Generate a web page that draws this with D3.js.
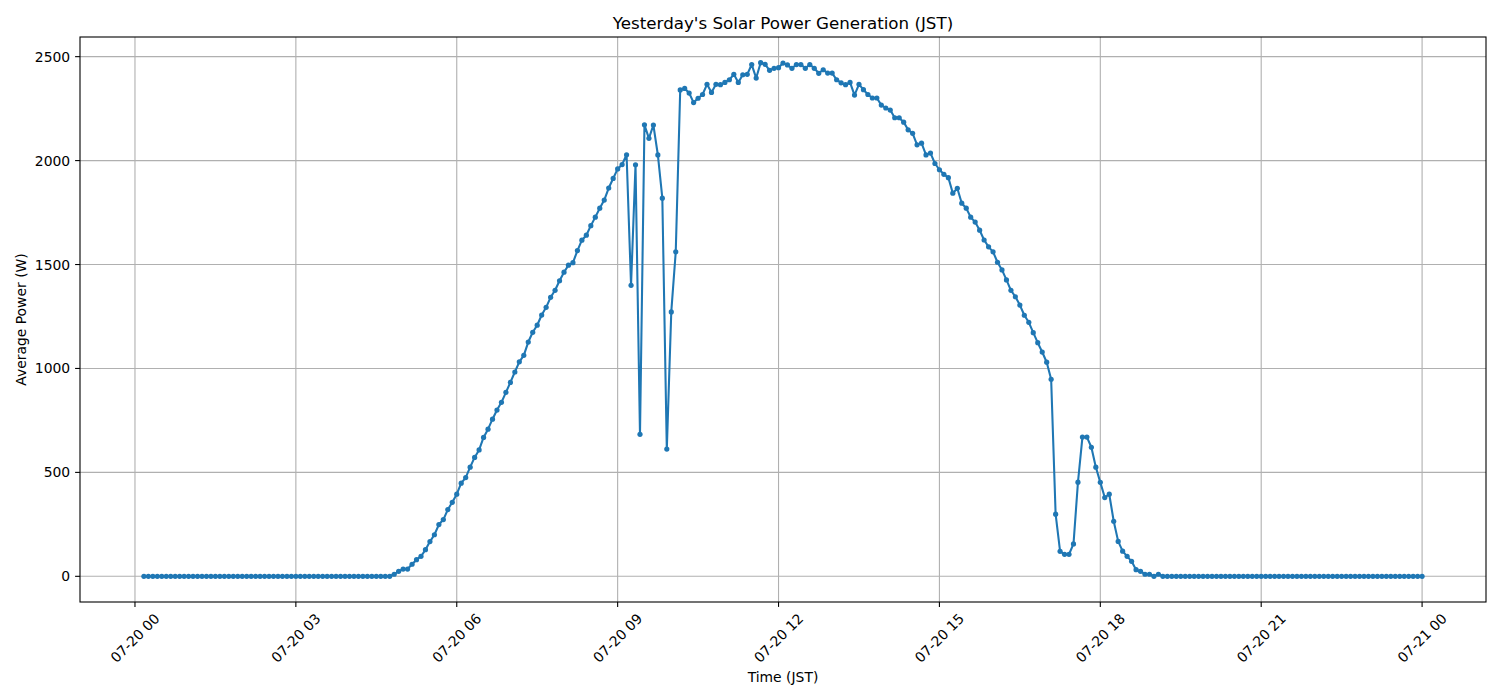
<!DOCTYPE html>
<html>
<head>
<meta charset="utf-8">
<script src="https://cdn.jsdelivr.net/npm/d3@7"></script>
<style>
  html, body { margin: 0; padding: 0; background: #fff; }
  svg { display: block; font-family: "DejaVu Sans", sans-serif; }
</style>
</head>
<body>
<svg id="chart" width="1500" height="700"></svg>
<script>
// ---- data ----
const startTime = "2023-07-20T00:10:00Z";   // first sample (JST shown as-is)
const stepMinutes = 5;                      // sampling interval
// average power (W) per 5-minute sample, one line per hour
const powerValues = [
  0,0,0,0,0,0,0,0,0,0,                                        // 00:10-00:55
  0,0,0,0,0,0,0,0,0,0,0,0,                                    // 01
  0,0,0,0,0,0,0,0,0,0,0,0,                                    // 02
  0,0,0,0,0,0,0,0,0,0,0,0,                                    // 03
  0,0,0,0,0,0,0,0,0,0,10,24,                                  // 04
  35,35,58,80,96,128,167,200,249,273,321,356,                 // 05
  395,448,475,525,572,608,668,708,756,800,837,885,            // 06
  933,983,1032,1063,1127,1174,1208,1257,1294,1342,1376,1422,  // 07
  1463,1497,1509,1567,1617,1641,1687,1728,1771,1810,1868,1914,// 08
  1960,1981,2028,1400,1980,683,2172,2107,2171,2027,1819,612,  // 09
  1272,1561,2340,2347,2325,2279,2300,2318,2367,2328,2367,2365,// 10
  2376,2389,2415,2376,2413,2415,2462,2397,2471,2463,2434,2444,// 11
  2447,2469,2460,2444,2462,2462,2444,2462,2444,2420,2437,2421,// 12
  2421,2389,2374,2365,2376,2315,2367,2341,2318,2301,2301,2267,// 13
  2253,2243,2206,2206,2185,2148,2131,2076,2084,2027,2036,1986,// 14
  1956,1934,1918,1843,1867,1795,1771,1728,1704,1665,1618,1585,// 15
  1561,1511,1474,1426,1376,1345,1305,1256,1222,1172,1124,1079,// 16
  1030,948,299,120,106,106,156,453,670,670,621,525,           // 17
  452,379,395,265,168,121,96,72,32,24,10,10,                  // 18
  0,10,0,0,0,0,0,0,0,0,0,0,                                   // 19
  0,0,0,0,0,0,0,0,0,0,0,0,                                    // 20
  0,0,0,0,0,0,0,0,0,0,0,0,                                    // 21
  0,0,0,0,0,0,0,0,0,0,0,0,                                    // 22
  0,0,0,0,0,0,0,0,0,0,0,0,                                    // 23
  0                                                           // 24:00
];
const yTickValues = [0, 500, 1000, 1500, 2000, 2500];
const xTickStepHours = 3;
const titleText = "Yesterday's Solar Power Generation (JST)";
const xLabelText = "Time (JST)";
const yLabelText = "Average Power (W)";

// ---- build table ----
const t0 = new Date(startTime);
const data = powerValues.map((v, i) => ({
  t: new Date(t0.getTime() + i * stepMinutes * 60000),
  v: v
}));

// ---- layout ----
const svg = d3.select("#chart");
const M = { left: 80, top: 37, right: 1486, bottom: 602 };
const blue = "#1f77b4";

const tExt = d3.extent(data, d => d.t);
const tPad = (tExt[1] - tExt[0]) * 0.05;
const x = d3.scaleUtc()
  .domain([new Date(+tExt[0] - tPad), new Date(+tExt[1] + tPad)])
  .range([M.left, M.right]);

const vExt = d3.extent(data, d => d.v);
const vPad = (vExt[1] - vExt[0]) * 0.05;
const y = d3.scaleLinear()
  .domain([vExt[0] - vPad, vExt[1] + vPad])
  .range([M.bottom, M.top]);

const xTicks = x.ticks(d3.utcHour.every(xTickStepHours));
const fmt = d3.utcFormat("%m-%d %H");

// grid
const grid = svg.append("g");
grid.selectAll("line.gx").data(xTicks).join("line")
  .attr("x1", d => x(d)).attr("x2", d => x(d))
  .attr("y1", M.top).attr("y2", M.bottom)
  .attr("stroke", "#b0b0b0").attr("stroke-width", 1.1);
grid.selectAll("line.gy").data(yTickValues).join("line")
  .attr("x1", M.left).attr("x2", M.right)
  .attr("y1", d => y(d)).attr("y2", d => y(d))
  .attr("stroke", "#b0b0b0").attr("stroke-width", 1.1);

// line + markers
const clip = svg.append("clipPath").attr("id", "clip").append("rect")
  .attr("x", M.left).attr("y", M.top)
  .attr("width", M.right - M.left).attr("height", M.bottom - M.top);
const plot = svg.append("g").attr("clip-path", "url(#clip)");
plot.append("path").datum(data)
  .attr("fill", "none").attr("stroke", blue).attr("stroke-width", 2.08)
  .attr("stroke-linejoin", "round").attr("stroke-linecap", "round")
  .attr("d", d3.line().x(d => x(d.t)).y(d => y(d.v)));
plot.selectAll("circle").data(data).join("circle")
  .attr("cx", d => x(d.t)).attr("cy", d => y(d.v))
  .attr("r", 2.6).attr("fill", blue);

// spines
svg.append("rect")
  .attr("x", M.left).attr("y", M.top)
  .attr("width", M.right - M.left).attr("height", M.bottom - M.top)
  .attr("fill", "none").attr("stroke", "#000").attr("stroke-width", 1.1);

// x axis ticks
const xAxis = svg.append("g");
xAxis.selectAll("line").data(xTicks).join("line")
  .attr("x1", d => x(d)).attr("x2", d => x(d))
  .attr("y1", M.bottom).attr("y2", M.bottom + 4.9)
  .attr("stroke", "#000").attr("stroke-width", 1.1);
xAxis.selectAll("text").data(xTicks).join("text")
  .attr("transform", d => `translate(${x(d)},${M.bottom + 36}) rotate(-45)`)
  .attr("text-anchor", "middle").attr("dominant-baseline", "central")
  .attr("font-size", 13.9).attr("fill", "#000")
  .text(d => fmt(d));

// y axis ticks
const yAxis = svg.append("g");
yAxis.selectAll("line").data(yTickValues).join("line")
  .attr("x1", M.left - 4.9).attr("x2", M.left)
  .attr("y1", d => y(d)).attr("y2", d => y(d))
  .attr("stroke", "#000").attr("stroke-width", 1.1);
yAxis.selectAll("text").data(yTickValues).join("text")
  .attr("x", M.left - 9.8).attr("y", d => y(d))
  .attr("text-anchor", "end").attr("dominant-baseline", "central")
  .attr("font-size", 13.9).attr("fill", "#000")
  .text(d => d);

// labels
const cx = (M.left + M.right) / 2;
svg.append("text").attr("x", cx).attr("y", 29)
  .attr("text-anchor", "middle").attr("font-size", 16.7).attr("fill", "#000")
  .text(titleText);
svg.append("text").attr("x", cx).attr("y", 682)
  .attr("text-anchor", "middle").attr("font-size", 13.9).attr("fill", "#000")
  .text(xLabelText);
svg.append("text")
  .attr("transform", `translate(21,${(M.top + M.bottom) / 2}) rotate(-90)`)
  .attr("text-anchor", "middle").attr("dominant-baseline", "central")
  .attr("font-size", 13.9).attr("fill", "#000")
  .text(yLabelText);
</script>
</body>
</html>
